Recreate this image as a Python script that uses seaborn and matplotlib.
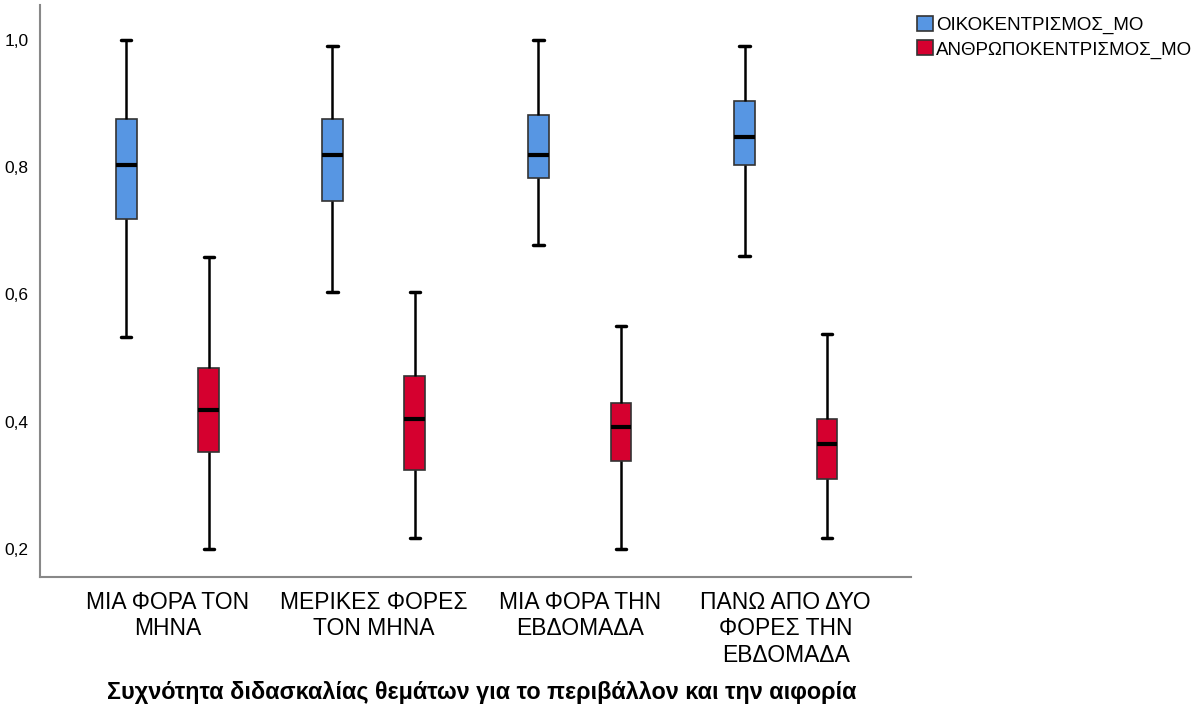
import pandas as pd
import matplotlib.pyplot as plt
import seaborn as sns

# Data: five-number summaries (min, Q1, median, Q3, max)
groups = ["ΜΙΑ ΦΟΡΑ ΤΟΝ\nΜΗΝΑ", "ΜΕΡΙΚΕΣ ΦΟΡΕΣ\nΤΟΝ ΜΗΝΑ",
          "ΜΙΑ ΦΟΡΑ ΤΗΝ\nΕΒΔΟΜΑΔΑ", "ΠΑΝΩ ΑΠΟ ΔΥΟ\nΦΟΡΕΣ ΤΗΝ\nΕΒΔΟΜΑΔΑ"]
series = ["ΟΙΚΟΚΕΝΤΡΙΣΜΟΣ_ΜΟ", "ΑΝΘΡΩΠΟΚΕΝΤΡΙΣΜΟΣ_ΜΟ"]
eco_stats = [
    [0.533, 0.719, 0.804, 0.875, 1.000],
    [0.604, 0.747, 0.819, 0.875, 0.990],
    [0.677, 0.783, 0.819, 0.882, 1.000],
    [0.661, 0.804, 0.848, 0.904, 0.990],
]
anthro_stats = [
    [0.200, 0.352, 0.418, 0.484, 0.658],
    [0.217, 0.324, 0.404, 0.471, 0.604],
    [0.200, 0.338, 0.391, 0.430, 0.551],
    [0.217, 0.310, 0.364, 0.404, 0.538],
]
y_ticks = [0.2, 0.4, 0.6, 0.8, 1.0]
y_tick_labels = ["0,2", "0,4", "0,6", "0,8", "1,0"]
colors = ["#5796E3", "#D5002F"]

rows = []
for g, e, a in zip(groups, eco_stats, anthro_stats):
    for v in e:
        rows.append((g, series[0], v))
    for v in a:
        rows.append((g, series[1], v))
df = pd.DataFrame(rows, columns=["group", "series", "value"])

sns.set_style("white")
plt.rcParams['font.family'] = ['Liberation Sans', 'DejaVu Sans']
plt.rcParams['text.color'] = 'black'
plt.rcParams['xtick.color'] = 'black'
plt.rcParams['ytick.color'] = 'black'
plt.rcParams['axes.labelcolor'] = 'black'

fig = plt.figure(figsize=(12.04, 7.06), dpi=100)
ax = fig.add_axes([0.033, 0.183, 0.724, 0.810])

sns.boxplot(data=df, x="group", y="value", hue="series", order=groups,
            hue_order=series, palette=colors, saturation=1, width=0.8, gap=0.75,
            whis=(0, 100), linewidth=1.2, linecolor="#333333",
            medianprops=dict(color="black", linewidth=3),
            whiskerprops=dict(color="black", linewidth=1.8),
            capprops=dict(color="black", linewidth=2.5),
            ax=ax)

ax.set_xlim(-0.62, 3.61)
ax.set_ylim(0.156, 1.055)
ax.set_yticks(y_ticks)
ax.set_yticklabels(y_tick_labels, fontsize=12.5)
ax.tick_params(axis="x", length=0, pad=10)
ax.tick_params(axis="y", length=0, pad=8)
for lbl in ax.get_xticklabels():
    lbl.set_fontsize(16.5)
    lbl.set_linespacing(1.2)
ax.set_ylabel("")
ax.set_xlabel("Συχνότητα διδασκαλίας θεμάτων για το περιβάλλον και την αιφορία",
              fontsize=16.8, fontweight="bold")
ax.xaxis.set_label_coords(0.507, -0.182)

for s in ["top", "right"]:
    ax.spines[s].set_visible(False)
for s in ["left", "bottom"]:
    ax.spines[s].set_color("#888888")
    ax.spines[s].set_linewidth(1.5)

ax.legend(loc="upper left", bbox_to_anchor=(0.993, 1.0), frameon=False,
          fontsize=13.5, handlelength=0.85, handleheight=0.85, handletextpad=0.2,
          labelspacing=0.32, borderaxespad=0.2)

fig.savefig("out.png", dpi=100)
